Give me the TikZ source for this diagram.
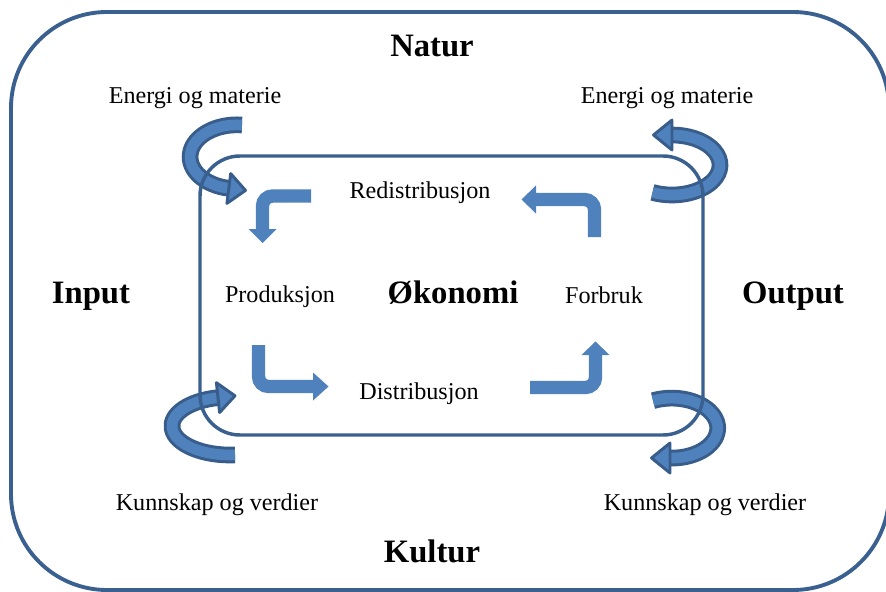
\documentclass[tikz,border=0pt]{standalone}
\usepackage{fontspec}
\setmainfont{Liberation Serif}
\definecolor{blockfill}{HTML}{4F81BD}
\definecolor{frameblue}{HTML}{3A6090}
\definecolor{arrowedge}{HTML}{385D8A}
\tikzset{
  frame/.style={draw=frameblue, line width=2.9pt},
  innerframe/.style={draw=frameblue, line width=2.6pt},
  bigtxt/.style={font=\fontsize{24.5}{28}\selectfont\bfseries, inner sep=0pt},
  smalltxt/.style={font=\fontsize{18.1}{21}\selectfont, inner sep=0pt},
  blockshaft/.style={draw=blockfill, line width=10pt, rounded corners=7.5pt},
  blockhead/.style={fill=blockfill, draw=none},
  curveouter/.style={draw=arrowedge, line width=12.5pt},
  curveinner/.style={draw=blockfill, line width=8pt},
  curvehead/.style={fill=blockfill, draw=arrowedge, line width=2.2pt, line join=round}
}
\begin{document}
\begin{tikzpicture}[x=0.75pt, y=-0.75pt]
\useasboundingbox (0,0) rectangle (886,592);
\fill[white] (0,0) rectangle (886,592);

% outer frame
\draw[frame, rounded corners=72pt] (11,12) rectangle (889,590);

% curved arrows (drawn below the inner frame)
% top-left
\coordinate (tlS) at (242,125);
\draw[curveouter] (tlS) arc[start angle=-84, end angle=-260, x radius=47, y radius=32];
\draw[curveinner] (tlS) arc[start angle=-84, end angle=-260, x radius=47, y radius=32];
\filldraw[curvehead] (230.7,173.6) -- (245.5,190.4) -- (226.9,203.4) -- cycle;
% top-right
\coordinate (trS) at (652.5,192.4);
\draw[curveouter] (trS) arc[start angle=114, end angle=-90, x radius=48, y radius=30];
\draw[curveinner] (trS) arc[start angle=114, end angle=-90, x radius=48, y radius=30];
\filldraw[curvehead] (672,120) -- (653.5,135) -- (672,150) -- cycle;
% bottom-left
\coordinate (blS) at (235,454.9);
\draw[curveouter] (blS) arc[start angle=85, end angle=258, x radius=58, y radius=29];
\draw[curveinner] (blS) arc[start angle=85, end angle=258, x radius=58, y radius=29];
\filldraw[curvehead] (216.4,382.7) -- (235,395.8) -- (219.6,412.5) -- cycle;
% bottom-right
\coordinate (brS) at (653,400.7);
\draw[curveouter] (brS) arc[start angle=-114, end angle=92.5, x radius=46, y radius=30];
\draw[curveinner] (brS) arc[start angle=-114, end angle=92.5, x radius=46, y radius=30];
\filldraw[curvehead] (670,443) -- (651.5,458) -- (670,473) -- cycle;

% inner frame
\draw[innerframe, rounded corners=30pt] (200,156) rectangle (703,435);

% block arrows inside
\draw[blockshaft] (311,196) -| (262.5,230);
\fill[blockhead] (248.5,229) -- (276.5,229) -- (262.5,243) -- cycle;

\draw[blockshaft] (258.5,345) |- (314,386.5);
\fill[blockhead] (313,372.5) -- (313,400.5) -- (328.5,386.5) -- cycle;

\draw[blockshaft] (594.5,237) |- (535,199.5);
\fill[blockhead] (536,185.5) -- (536,213.5) -- (521.5,199.5) -- cycle;

\draw[blockshaft] (530,387.5) -| (595.5,354);
\fill[blockhead] (581.5,355) -- (609.5,355) -- (595.5,341.5) -- cycle;

% texts
\node[bigtxt] (natur) at (432,46) {Natur};
\node[bigtxt] (kultur) at (432,551) {Kultur};
\node[bigtxt] (input) at (91,296) {Input};
\node[bigtxt] (output) at (793,296) {Output};
\node[bigtxt] (okonomi) at (453,293) {Økonomi};
\node[smalltxt] (emL) at (195,98) {Energi og materie};
\node[smalltxt] (emR) at (667,98) {Energi og materie};
\node[smalltxt] (kvL) at (217,505) {Kunnskap og verdier};
\node[smalltxt] (kvR) at (705,505) {Kunnskap og verdier};
\node[smalltxt] (prod) at (280,297) {Produksjon};
\node[smalltxt] (forb) at (604,295) {Forbruk};
\node[smalltxt] (redis) at (420,193) {Redistribusjon};
\node[smalltxt] (dist) at (419,394) {Distribusjon};
\end{tikzpicture}
\end{document}
